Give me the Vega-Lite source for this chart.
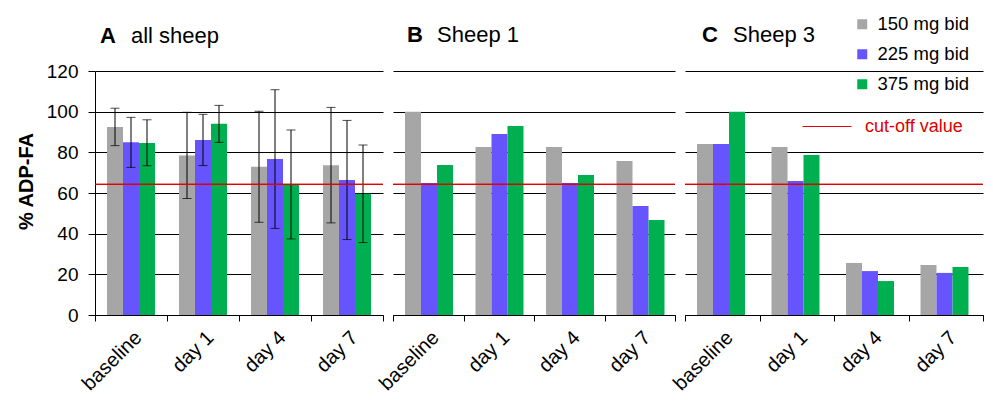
{
  "$schema": "https://vega.github.io/schema/vega-lite/v6.json",
  "background": "white",
  "padding": {"left": 16, "top": 15, "right": 10, "bottom": 5},
  "spacing": 10,
  "bounds": "flush",
  "config": {
    "font": "Liberation Sans",
    "view": {"stroke": null},
    "axis": {"domainColor": "black", "tickColor": "black", "gridColor": "black", "gridOpacity": 1, "labelColor": "black", "titleColor": "black", "labelFont": "Liberation Sans", "titleFont": "Liberation Sans"},
    "title": {"font": "Liberation Sans", "subtitleFont": "Liberation Sans", "color": "black", "subtitleColor": "black"}
  },
  "datasets": {
    "a": [
      {"day": "baseline", "dose": "150 mg bid", "v": 92.5, "lo": 83.3, "hi": 101.7},
      {"day": "baseline", "dose": "225 mg bid", "v": 84.9, "lo": 72.6, "hi": 97.2},
      {"day": "baseline", "dose": "375 mg bid", "v": 84.6, "lo": 73.4, "hi": 96.0},
      {"day": "day 1", "dose": "150 mg bid", "v": 78.5, "lo": 57.3, "hi": 99.7},
      {"day": "day 1", "dose": "225 mg bid", "v": 86.1, "lo": 73.5, "hi": 98.7},
      {"day": "day 1", "dose": "375 mg bid", "v": 94.0, "lo": 84.9, "hi": 103.1},
      {"day": "day 4", "dose": "150 mg bid", "v": 72.9, "lo": 45.6, "hi": 100.2},
      {"day": "day 4", "dose": "225 mg bid", "v": 76.7, "lo": 42.6, "hi": 110.8},
      {"day": "day 4", "dose": "375 mg bid", "v": 64.2, "lo": 37.4, "hi": 91.0},
      {"day": "day 7", "dose": "150 mg bid", "v": 73.7, "lo": 45.3, "hi": 102.1},
      {"day": "day 7", "dose": "225 mg bid", "v": 66.4, "lo": 37.1, "hi": 95.7},
      {"day": "day 7", "dose": "375 mg bid", "v": 59.6, "lo": 35.6, "hi": 83.6}
    ],
    "b": [
      {"day": "baseline", "dose": "150 mg bid", "v": 100.0},
      {"day": "baseline", "dose": "225 mg bid", "v": 64.9},
      {"day": "baseline", "dose": "375 mg bid", "v": 73.8},
      {"day": "day 1", "dose": "150 mg bid", "v": 82.6},
      {"day": "day 1", "dose": "225 mg bid", "v": 89.0},
      {"day": "day 1", "dose": "375 mg bid", "v": 93.0},
      {"day": "day 4", "dose": "150 mg bid", "v": 82.6},
      {"day": "day 4", "dose": "225 mg bid", "v": 64.9},
      {"day": "day 4", "dose": "375 mg bid", "v": 68.9},
      {"day": "day 7", "dose": "150 mg bid", "v": 75.7},
      {"day": "day 7", "dose": "225 mg bid", "v": 53.6},
      {"day": "day 7", "dose": "375 mg bid", "v": 46.7}
    ],
    "c": [
      {"day": "baseline", "dose": "150 mg bid", "v": 84.1},
      {"day": "baseline", "dose": "225 mg bid", "v": 84.1},
      {"day": "baseline", "dose": "375 mg bid", "v": 100.0},
      {"day": "day 1", "dose": "150 mg bid", "v": 82.6},
      {"day": "day 1", "dose": "225 mg bid", "v": 65.9},
      {"day": "day 1", "dose": "375 mg bid", "v": 78.7},
      {"day": "day 4", "dose": "150 mg bid", "v": 25.6},
      {"day": "day 4", "dose": "225 mg bid", "v": 21.6},
      {"day": "day 4", "dose": "375 mg bid", "v": 16.7},
      {"day": "day 7", "dose": "150 mg bid", "v": 24.6},
      {"day": "day 7", "dose": "225 mg bid", "v": 20.7},
      {"day": "day 7", "dose": "375 mg bid", "v": 23.6}
    ]
  },
  "hconcat": [
    {
      "width": 288, "height": 244,
      "title": {"text": "A", "subtitle": "all sheep", "anchor": "start", "frame": "group", "fontSize": 22, "fontWeight": "bold", "subtitleFontSize": 22, "subtitleFontWeight": "normal", "subtitlePadding": -22, "offset": 14, "dx": 36, "encoding": {"dx": {"value": 5}}},
      "data": {"name": "a"},
      "layer": [
        {
          "mark": {"type": "bar"},
          "encoding": {
            "x": {"field": "day", "type": "nominal", "sort": ["baseline", "day 1", "day 4", "day 7"], "scale": {"paddingInner": 0, "paddingOuter": 0}, "title": null,
                  "axis": {"tickBand": "extent", "labelAngle": -45, "labelFontSize": 20, "tickSize": 6, "labelPadding": 6, "grid": false}},
            "xOffset": {"field": "dose", "type": "nominal", "sort": ["150 mg bid", "225 mg bid", "375 mg bid"], "scale": {"paddingInner": 0, "paddingOuter": 0.75}},
            "y": {"field": "v", "type": "quantitative", "scale": {"domain": [0, 120]}, "title": "% ADP-FA",
                  "axis": {"values": [0, 20, 40, 60, 80, 100, 120], "grid": true, "tickSize": 7, "labelPadding": 10, "labelFontSize": 19, "titleFontSize": 20, "titleFontWeight": "bold", "titlePadding": 10, "titleY": 110}},
            "color": {"field": "dose", "type": "nominal", "scale": {"domain": ["150 mg bid", "225 mg bid", "375 mg bid"], "range": ["#a6a6a6", "#6655ff", "#00b050"]},
                      "legend": {"orient": "none", "legendX": 758, "legendY": -56, "title": null, "symbolType": "square", "symbolSize": 100, "symbolStrokeWidth": 0, "labelFontSize": 18.5, "labelColor": "black", "rowPadding": 11, "labelOffset": 6, "padding": 0}}
          }
        },
        {
          "mark": {"type": "rule", "color": "black", "strokeWidth": 1, "xOffset": 0.5},
          "encoding": {
            "x": {"field": "day", "type": "nominal", "sort": ["baseline", "day 1", "day 4", "day 7"]},
            "xOffset": {"field": "dose", "type": "nominal", "sort": ["150 mg bid", "225 mg bid", "375 mg bid"]},
            "y": {"field": "lo", "type": "quantitative"},
            "y2": {"field": "hi"}
          }
        },
        {
          "mark": {"type": "tick", "color": "black", "size": 9, "thickness": 1, "xOffset": 0.5},
          "encoding": {
            "x": {"field": "day", "type": "nominal", "sort": ["baseline", "day 1", "day 4", "day 7"]},
            "xOffset": {"field": "dose", "type": "nominal", "sort": ["150 mg bid", "225 mg bid", "375 mg bid"]},
            "y": {"field": "lo", "type": "quantitative"}
          }
        },
        {
          "mark": {"type": "tick", "color": "black", "size": 9, "thickness": 1, "xOffset": 0.5},
          "encoding": {
            "x": {"field": "day", "type": "nominal", "sort": ["baseline", "day 1", "day 4", "day 7"]},
            "xOffset": {"field": "dose", "type": "nominal", "sort": ["150 mg bid", "225 mg bid", "375 mg bid"]},
            "y": {"field": "hi", "type": "quantitative"}
          }
        },
        {
          "mark": {"type": "rule", "strokeWidth": 1},
          "encoding": {
            "y": {"datum": 64.2, "type": "quantitative"},
            "stroke": {"datum": "cut-off value", "type": "nominal", "scale": {"domain": ["cut-off value"], "range": ["#e00000"]},
                       "legend": {"orient": "none", "legendX": 707, "legendY": 30.5, "title": null, "symbolType": "stroke", "symbolSize": 2401, "symbolStrokeWidth": 1, "labelColor": "#e00000", "labelFontSize": 18, "labelOffset": 13, "padding": 0}}
          }
        }
      ]
    },
    {
      "width": 282, "height": 244,
      "title": {"text": "B", "subtitle": "Sheep 1", "anchor": "start", "frame": "group", "fontSize": 22, "fontWeight": "bold", "subtitleFontSize": 22, "subtitleFontWeight": "normal", "subtitlePadding": -22, "offset": 24, "dx": 44, "encoding": {"dx": {"value": 14}}},
      "data": {"name": "b"},
      "layer": [
        {
          "mark": {"type": "bar"},
          "encoding": {
            "x": {"field": "day", "type": "nominal", "sort": ["baseline", "day 1", "day 4", "day 7"], "scale": {"paddingInner": 0, "paddingOuter": 0}, "title": null,
                  "axis": {"tickBand": "extent", "labelAngle": -45, "labelFontSize": 20, "tickSize": 6, "labelPadding": 6, "grid": false}},
            "xOffset": {"field": "dose", "type": "nominal", "sort": ["150 mg bid", "225 mg bid", "375 mg bid"], "scale": {"paddingInner": 0, "paddingOuter": 0.75}},
            "y": {"field": "v", "type": "quantitative", "scale": {"domain": [0, 120]}, "title": null,
                  "axis": {"values": [0, 20, 40, 60, 80, 100, 120], "grid": true, "ticks": false, "labels": false, "domain": false}},
            "color": {"field": "dose", "type": "nominal"}
          }
        },
        {
          "mark": {"type": "rule", "strokeWidth": 1},
          "encoding": {
            "y": {"datum": 64.2, "type": "quantitative"},
            "stroke": {"datum": "cut-off value", "type": "nominal"}
          }
        }
      ]
    },
    {
      "width": 298, "height": 244,
      "title": {"text": "C", "subtitle": "Sheep 3", "anchor": "start", "frame": "group", "fontSize": 22, "fontWeight": "bold", "subtitleFontSize": 22, "subtitleFontWeight": "normal", "subtitlePadding": -22, "offset": 24, "dx": 48, "encoding": {"dx": {"value": 17}}},
      "data": {"name": "c"},
      "layer": [
        {
          "mark": {"type": "bar"},
          "encoding": {
            "x": {"field": "day", "type": "nominal", "sort": ["baseline", "day 1", "day 4", "day 7"], "scale": {"paddingInner": 0, "paddingOuter": 0}, "title": null,
                  "axis": {"tickBand": "extent", "labelAngle": -45, "labelFontSize": 20, "tickSize": 6, "labelPadding": 6, "grid": false}},
            "xOffset": {"field": "dose", "type": "nominal", "sort": ["150 mg bid", "225 mg bid", "375 mg bid"], "scale": {"paddingInner": 0, "paddingOuter": 0.75}},
            "y": {"field": "v", "type": "quantitative", "scale": {"domain": [0, 120]}, "title": null,
                  "axis": {"values": [0, 20, 40, 60, 80, 100, 120], "grid": true, "ticks": false, "labels": false, "domain": false}},
            "color": {"field": "dose", "type": "nominal"}
          }
        },
        {
          "mark": {"type": "rule", "strokeWidth": 1},
          "encoding": {
            "y": {"datum": 64.2, "type": "quantitative"},
            "stroke": {"datum": "cut-off value", "type": "nominal"}
          }
        }
      ]
    }
  ]
}
